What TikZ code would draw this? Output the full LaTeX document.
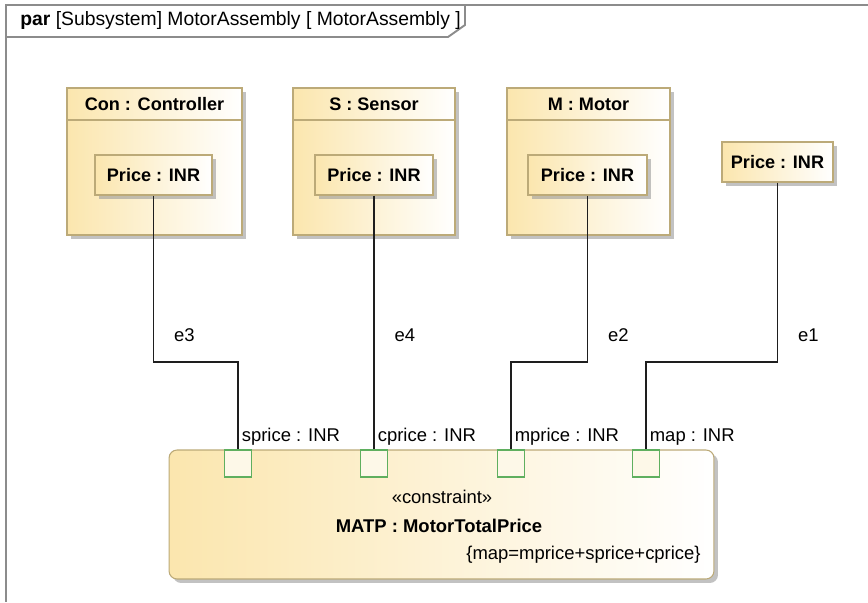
\documentclass[tikz,border=0pt]{standalone}
\usepackage{fontspec}
\setmainfont{Liberation Sans}
\usetikzlibrary{calc,positioning,shadows}
\definecolor{Ink}{HTML}{1E1E1E}
\definecolor{FrameGray}{HTML}{8C8C8C}
\definecolor{PartEdge}{HTML}{BCAA78}
\definecolor{PartFill}{HTML}{FBE6AE}
\definecolor{PortGreen}{HTML}{5FAF5F}
\definecolor{PortFill}{HTML}{FDF8E8}
\definecolor{ShadowGray}{HTML}{9A9A9A}
\tikzset{
  frame/.style={draw=FrameGray,line width=1.1pt},
  partBox/.style={rectangle,draw=PartEdge,semithick,left color=PartFill,right color=white,
    drop shadow={shadow xshift=.08cm,shadow yshift=-.08cm,fill=ShadowGray,opacity=.6},inner sep=0pt},
  partHead/.style={rectangle,draw=PartEdge,semithick,anchor=north,inner sep=0pt,
    minimum height=.64cm,font=\bfseries\fontsize{10.3}{12}\selectfont},
  valueBox/.style={partBox,minimum height=.8cm,font=\bfseries\fontsize{10.3}{12}\selectfont},
  constraintBox/.style={partBox,rounded corners=.16cm,minimum width=10.9cm,minimum height=2.58cm},
  port/.style={rectangle,draw=PortGreen,semithick,fill=PortFill,minimum size=.54cm,inner sep=0pt},
  portLabel/.style={anchor=south west,inner sep=2pt,font=\fontsize{10.5}{12}\selectfont},
  binding/.style={draw=Ink,line width=.75pt},
  bindLabel/.style={anchor=west,xshift=.4cm,inner sep=0pt,font=\fontsize{10.5}{12}\selectfont},
  plainText/.style={inner sep=0pt,font=\fontsize{10.5}{12}\selectfont},
  boldText/.style={inner sep=0pt,font=\bfseries\fontsize{10.5}{12}\selectfont}
}
\begin{document}
\begin{tikzpicture}[x=0.02cm,y=-0.02cm]
  \useasboundingbox (0,0) rectangle (868,602);
  % Diagram frame and name tag
  \draw[frame] (868,5) -| (6,602);
  \draw[frame] (6,37) -- (448,37) -- (465,25) -- (465,5);
  \node[plainText,anchor=west,font=\fontsize{11}{13}\selectfont] (title) at (20,21) {\textbf{par} [Subsystem] MotorAssembly [ MotorAssembly ]};

  % Part properties
  \node[partBox,minimum width=3.5cm,minimum height=2.94cm] (con) at (154.5,161.5) {};
  \node[partHead,minimum width=3.5cm] (conHead) at (con.north) {Con : Controller};
  \node[valueBox,minimum width=2.34cm] (conPrice) at (153.5,175) {Price : INR};

  \node[partBox,minimum width=3.24cm,minimum height=2.94cm] (sen) at (374,161.5) {};
  \node[partHead,minimum width=3.24cm] (senHead) at (sen.north) {S : Sensor};
  \node[valueBox,minimum width=2.36cm] (senPrice) at (374,175) {Price : INR};

  \node[partBox,minimum width=3.26cm,minimum height=2.94cm] (mot) at (588.5,161.5) {};
  \node[partHead,minimum width=3.26cm] (motHead) at (mot.north) {M : Motor};
  \node[valueBox,minimum width=2.38cm] (motPrice) at (587.5,175) {Price : INR};

  \node[valueBox,minimum width=2.22cm] (price) at (777.5,162) {Price : INR};

  % Constraint property with its parameters
  \node[constraintBox] (matp) at (441.5,514.5) {};
  \node[port] (sprice) at (238,463.5) {};
  \node[port] (cprice) at (374,463.5) {};
  \node[port] (mprice) at (511,463.5) {};
  \node[port] (map) at (646,463.5) {};
  \node[portLabel] (spriceLabel) at (sprice.north) {sprice : INR};
  \node[portLabel] (cpriceLabel) at (cprice.north) {cprice : INR};
  \node[portLabel] (mpriceLabel) at (mprice.north) {mprice : INR};
  \node[portLabel] (mapLabel) at (map.north) {map : INR};
  \node[plainText] (stereo) at (442,497) {«constraint»};
  \node[boldText] (matpName) at (439,526) {MATP : MotorTotalPrice};
  \node[plainText,anchor=east] (matpRule) at (701,555) {\{map=mprice+sprice+cprice\}};

  % Binding connectors
  \coordinate (bend) at (0,362);
  \draw[binding] (conPrice.south) -- node[bindLabel,pos=.84]{e3} (conPrice.south |- bend) -| (sprice.north);
  \draw[binding] (senPrice.south) -- node[bindLabel,pos=.55]{e4} (cprice.north);
  \draw[binding] (motPrice.south) -- node[bindLabel,pos=.84]{e2} (motPrice.south |- bend) -| (mprice.north);
  \draw[binding] (price.south) -- node[bindLabel,pos=.85]{e1} (price.south |- bend) -| (map.north);
\end{tikzpicture}
\end{document}
